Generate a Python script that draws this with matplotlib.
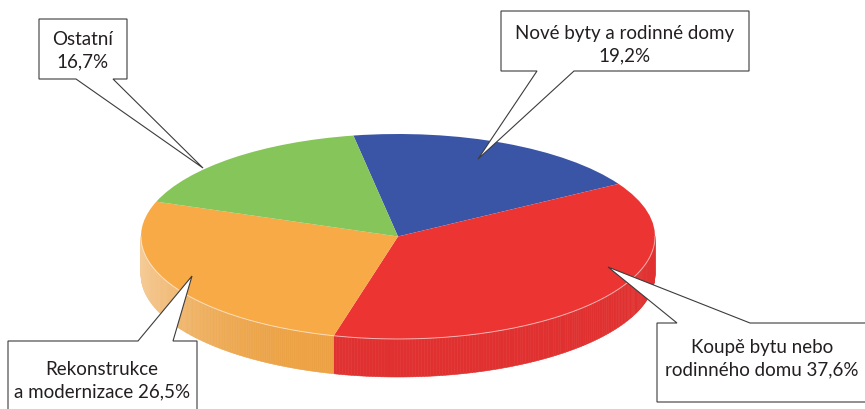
import numpy as np
import matplotlib
matplotlib.use("Agg")
import matplotlib.pyplot as plt
from matplotlib import font_manager
from matplotlib.collections import PolyCollection
from matplotlib.colors import to_rgb
from matplotlib.patches import Polygon

# ------------------ DATA ------------------
labels = ["Nové byty a rodinné domy\n19,2%",
          "Koupě bytu nebo\nrodinného domu 37,6%",
          "Rekonstrukce\na modernizace 26,5%",
          "Ostatní\n16,7%"]
values = [19.2, 37.6, 26.5, 16.7]
colors = ["#3a55a5", "#ec3433", "#f8aa47", "#86c55a"]

# ------------------ FONT ------------------
installed = {f.name for f in font_manager.fontManager.ttflist}
fam = [f for f in ["Lato", "Roboto", "DejaVu Sans"] if f in installed]
plt.rcParams["font.family"] = fam

W, H = 865, 410
CX, CY, RX, RY = 398, 237.5, 257, 102.5   # ellipse in pixels
DEPTH = 38 / RY

fig = plt.figure(figsize=(W / 100, H / 100), dpi=100)

# ------------------ PIE (top face) ------------------
ax = fig.add_axes([0, 0, 1, 1])
wedges, _ = ax.pie(values, colors=colors, startangle=100, counterclock=False,
                   radius=1, wedgeprops=dict(linewidth=0))
for w in wedges:
    w.set_zorder(3)
ax.set_aspect("auto")
ax.set_xlim(-CX / RX, (W - CX) / RX)
ax.set_ylim(-(H - CY) / RY, CY / RY)
ax.axis("off")

# ------------------ PIE (side wall) ------------------
polys, fcs = [], []
for w, c in zip(wedges, colors):
    base = np.array(to_rgb(c))
    t = np.radians(np.linspace(w.theta1, w.theta2, 200))
    for a, b in zip(t[:-1], t[1:]):
        m = (a + b) / 2
        if np.sin(m) >= 0:
            continue
        polys.append([(np.cos(a), np.sin(a)), (np.cos(b), np.sin(b)),
                      (np.cos(b), np.sin(b) - DEPTH), (np.cos(a), np.sin(a) - DEPTH)])
        light = 0.45 * max(0, -np.cos(m)) ** 4
        col = base * 0.95
        col = col * (1 - light) + light
        fcs.append(np.clip(col, 0, 1))
ax.add_collection(PolyCollection(polys, facecolors=fcs, edgecolors=fcs,
                                 linewidths=0.4, zorder=2))
tt = np.radians(np.linspace(180, 360, 200))
ax.plot(np.cos(tt), np.sin(tt), color="white", lw=0.7, alpha=0.6, zorder=4)

# ------------------ CALLOUTS ------------------
ov = fig.add_axes([0, 0, 1, 1])
ov.set_xlim(0, W)
ov.set_ylim(H, 0)
ov.axis("off")


def callout(box, base, tip, side, text_xy):
    x0, y0, x1, y1 = box
    if side == "bottom":
        pts = [(x0, y0), (x1, y0), (x1, y1), (base[1], y1), tip,
               (base[0], y1), (x0, y1)]
    else:
        pts = [(x0, y1), (x0, y0), (base[0], y0), tip, (base[1], y0),
               (x1, y0), (x1, y1)]
    ov.add_patch(Polygon(pts, closed=True, facecolor="white",
                         edgecolor="#3c3c3c", lw=0.8, zorder=5))
    return text_xy


text_pos = [
    callout((501, 12, 749, 72), (537, 574), (478, 160), "bottom", (625, 45)),
    callout((657, 324, 880, 403), (677, 750), (608, 268), "top", (762, 359)),
    callout((8, 342, 197, 425), (138, 173), (192, 277), "top", (102, 381)),
    callout((39, 20, 127, 80), (76, 113), (203, 169), "bottom", (83, 51)),
]

for lab, (tx, ty) in zip(labels, text_pos):
    ov.text(tx, ty, lab, ha="center", va="center", fontsize=13.5,
            color="#231f20", linespacing=1.4, zorder=6)

plt.savefig("out.png", dpi=100)
plt.close()
